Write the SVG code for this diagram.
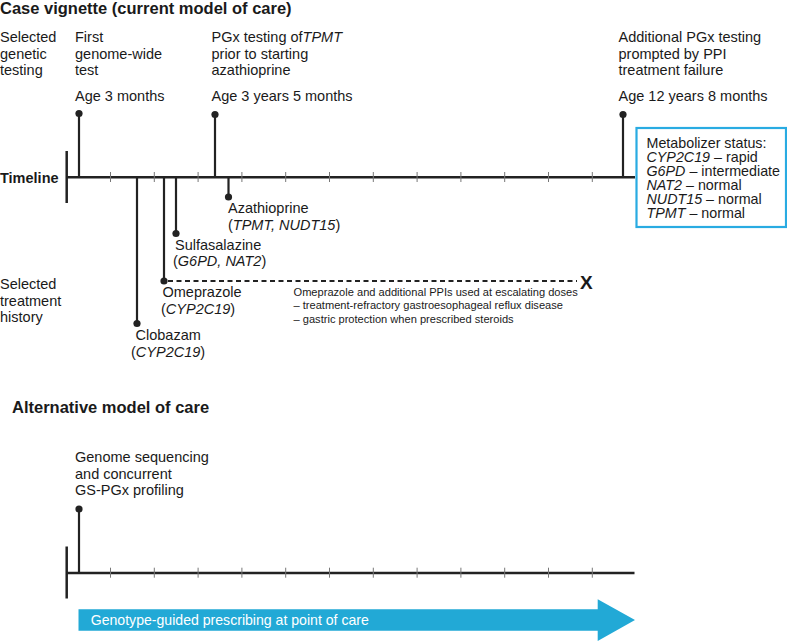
<svg xmlns="http://www.w3.org/2000/svg" width="787" height="642" viewBox="0 0 787 642">
<style>
text{font-family:"Liberation Sans",Arial,Helvetica,sans-serif;fill:#1a1a1a}
.t{font-size:14.5px}
.h{font-size:16.5px;font-weight:bold}
.b{font-size:14.5px;font-weight:bold}
.s{font-size:11.1px}
.m{font-size:14.3px}
.i{font-style:italic}
.axis{stroke:#222;stroke-width:2.5;fill:none}
.stem{stroke:#222;stroke-width:2.2;fill:none}
.tick{stroke:#777;stroke-width:1;fill:none}
.dot{fill:#222}
.dash{stroke:#222;stroke-width:1.8;stroke-dasharray:5 3.5;fill:none}
</style>
<defs>
<g id="ticks">
<line class="tick" x1="110.5" y1="172" x2="110.5" y2="182"/>
<line class="tick" x1="154.3" y1="172" x2="154.3" y2="182"/>
<line class="tick" x1="198.1" y1="172" x2="198.1" y2="182"/>
<line class="tick" x1="241.9" y1="172" x2="241.9" y2="182"/>
<line class="tick" x1="285.7" y1="172" x2="285.7" y2="182"/>
<line class="tick" x1="329.5" y1="172" x2="329.5" y2="182"/>
<line class="tick" x1="373.3" y1="172" x2="373.3" y2="182"/>
<line class="tick" x1="417.1" y1="172" x2="417.1" y2="182"/>
<line class="tick" x1="460.9" y1="172" x2="460.9" y2="182"/>
<line class="tick" x1="504.7" y1="172" x2="504.7" y2="182"/>
<line class="tick" x1="548.5" y1="172" x2="548.5" y2="182"/>
<line class="tick" x1="592.3" y1="172" x2="592.3" y2="182"/>
</g>
</defs>

<g id="headings">
<text class="h" x="0" y="14">Case vignette (current model of care)</text>
<text class="h" x="12" y="413">Alternative model of care</text>
</g>

<g id="row-labels">
<text class="t" x="0" y="42">Selected</text>
<text class="t" x="0" y="58.5">genetic</text>
<text class="t" x="0" y="75">testing</text>
<text class="b" x="0" y="183">Timeline</text>
<text class="t" x="0" y="289">Selected</text>
<text class="t" x="0" y="305.5">treatment</text>
<text class="t" x="0" y="322">history</text>
</g>

<g id="timeline-current">
<line class="axis" x1="66.7" y1="151" x2="66.7" y2="203"/>
<line class="axis" x1="66.7" y1="177.3" x2="635" y2="177.3"/>
<use href="#ticks"/>
</g>

<g id="connectors">
<line class="stem" x1="79" y1="113.5" x2="79" y2="177"/>
<circle class="dot" cx="79" cy="113.5" r="3.6"/>
<line class="stem" x1="215" y1="114.5" x2="215" y2="177"/>
<circle class="dot" cx="215" cy="114.5" r="3.6"/>
<line class="stem" x1="623" y1="114.5" x2="623" y2="177"/>
<circle class="dot" cx="623" cy="114.5" r="3.6"/>
<line class="stem" x1="137" y1="177" x2="137" y2="323.5"/>
<circle class="dot" cx="137" cy="323.5" r="3.6"/>
<line class="stem" x1="164" y1="177" x2="164" y2="281"/>
<circle class="dot" cx="164" cy="281" r="3.6"/>
<line class="stem" x1="176" y1="177" x2="176" y2="233.5"/>
<circle class="dot" cx="176" cy="233.5" r="3.6"/>
<line class="stem" x1="228.5" y1="177" x2="228.5" y2="197"/>
<circle class="dot" cx="228.5" cy="197" r="3.6"/>
<line class="dash" x1="168" y1="281" x2="577" y2="281"/>
<line class="stem" x1="79" y1="509" x2="79" y2="573"/>
<circle class="dot" cx="79" cy="509" r="3.6"/>
</g>

<g id="event-first-test">
<text class="t" x="75" y="42">First</text>
<text class="t" x="75" y="58.5">genome-wide</text>
<text class="t" x="75" y="75">test</text>
<text class="t" x="75" y="100.5">Age 3 months</text>
</g>

<g id="event-tpmt-test">
<text class="t" x="211.5" y="42">PGx testing of<tspan class="i">TPMT</tspan></text>
<text class="t" x="211.5" y="58.5">prior to starting</text>
<text class="t" x="211.5" y="75">azathioprine</text>
<text class="t" x="211.5" y="100.5">Age 3 years 5 months</text>
</g>

<g id="event-additional-test">
<text class="t" x="618.5" y="42">Additional PGx testing</text>
<text class="t" x="618.5" y="58.5">prompted by PPI</text>
<text class="t" x="618.5" y="75">treatment failure</text>
<text class="t" x="618.5" y="101">Age 12 years 8 months</text>
</g>

<g id="metabolizer-box">
<rect x="636.5" y="128" width="149.5" height="99" fill="#fff" stroke="#29abe2" stroke-width="2.2"/>
<text class="m" x="646.5" y="147.5">Metabolizer status:</text>
<text class="m" x="646.5" y="161.5"><tspan class="i">CYP2C19</tspan> – rapid</text>
<text class="m" x="646.5" y="175.5"><tspan class="i">G6PD</tspan> – intermediate</text>
<text class="m" x="646.5" y="189.5"><tspan class="i">NAT2</tspan> – normal</text>
<text class="m" x="646.5" y="203.5"><tspan class="i">NUDT15</tspan> – normal</text>
<text class="m" x="646.5" y="217.5"><tspan class="i">TPMT</tspan> – normal</text>
</g>

<g id="drug-azathioprine">
<text class="t" x="228" y="213">Azathioprine</text>
<text class="t" x="228" y="229.5">(<tspan class="i">TPMT, NUDT15</tspan>)</text>
</g>

<g id="drug-sulfasalazine">
<text class="t" x="175" y="249.5">Sulfasalazine</text>
<text class="t" x="173" y="266">(<tspan class="i">G6PD, NAT2</tspan>)</text>
</g>

<g id="drug-omeprazole">
<text class="t" x="162.5" y="297">Omeprazole</text>
<text class="t" x="161" y="313.5">(<tspan class="i">CYP2C19</tspan>)</text>
</g>

<g id="drug-clobazam">
<text class="t" x="135.5" y="340">Clobazam</text>
<text class="t" x="131" y="356.5">(<tspan class="i">CYP2C19</tspan>)</text>
</g>

<g id="ppi-note">
<text x="580" y="288.5" style="font-size:19px;font-weight:bold">X</text>
<text class="s" x="293.5" y="296">Omeprazole and additional PPIs used at escalating doses</text>
<text class="s" x="293.5" y="309.3">– treatment-refractory gastroesophageal reflux disease</text>
<text class="s" x="293.5" y="322.6">– gastric protection when prescribed steroids</text>
</g>

<g id="event-genome-seq">
<text class="t" x="75" y="462">Genome sequencing</text>
<text class="t" x="75" y="478.5">and concurrent</text>
<text class="t" x="75" y="495">GS-PGx profiling</text>
</g>

<g id="timeline-alternative">
<line class="axis" x1="66.7" y1="546.5" x2="66.7" y2="598.5"/>
<line class="axis" x1="66.7" y1="573" x2="634.5" y2="573"/>
<use href="#ticks" transform="translate(0,395.7)"/>
</g>

<g id="prescribing-arrow">
<polygon points="78.5,609.3 597.7,609.3 597.7,599.3 635,620 597.7,641 597.7,630.7 78.5,630.7" fill="#22a9d6"/>
<text x="90.7" y="625" style="fill:#fff;font-size:14.1px">Genotype-guided prescribing at point of care</text>
</g>
</svg>
